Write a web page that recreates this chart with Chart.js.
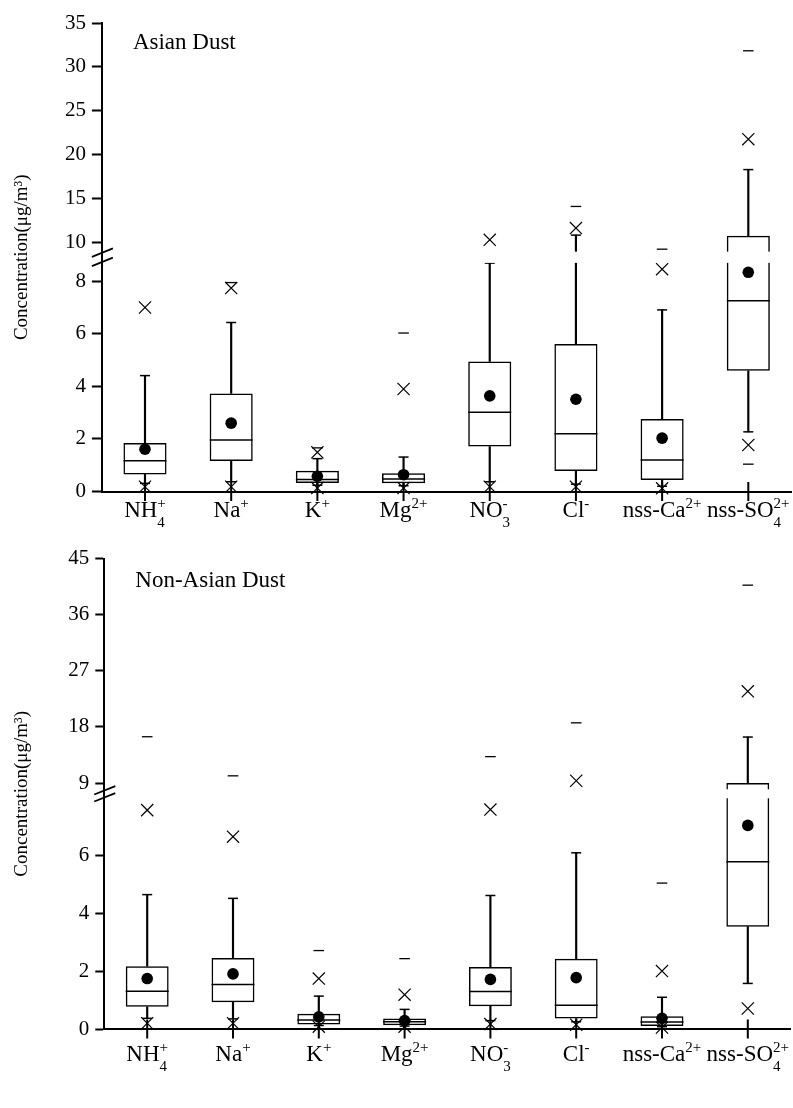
<!DOCTYPE html>
<html>
<head>
<meta charset="utf-8">
<title>Ion concentrations – Asian Dust / Non-Asian Dust</title>
<script src="https://cdn.jsdelivr.net/npm/chart.js@4/dist/chart.umd.min.js"></script>
<style>
  html, body { margin: 0; padding: 0; background: #fff; }
  #page { position: relative; width: 793px; height: 1108px; overflow: hidden; background: #fff; }
  .panel { position: absolute; left: 0; width: 793px; }
</style>
</head>
<body>
<div id="page">
  <div class="panel" style="top:0;height:540px"><canvas id="asianChart"></canvas></div>
  <div class="panel" style="top:540px;height:568px"><canvas id="nonAsianChart"></canvas></div>
</div>
<script>
// ---- categories (ions) ----
const categories = ['NH₄⁺', 'Na⁺', 'K⁺', 'Mg²⁺', 'NO₃⁻', 'Cl⁻', 'nss-Ca²⁺', 'nss-SO₄²⁺'];
const labelBase = ['NH', 'Na', 'K', 'Mg', 'NO', 'Cl', 'nss-Ca', 'nss-SO'];
const labelSub  = ['4', '', '', '', '3', '', '', '4'];
const labelSup  = ['+', '+', '+', '2+', '-', '-', '2+', '2+'];

// ---- Asian Dust (µg/m³) ----
const asianMin    = [null, null, null, null, null, null, null, 1.04];
const asianP1     = [0.18, 0.18, 0.13, 0.13, 0.18, 0.18, 0.12, 1.77];
const asianLow    = [0.31, 0.37, 0.24, 0.22, 0.37, 0.28, 0.20, 2.27];
const asianQ1     = [0.65, 1.16, 0.32, 0.31, 1.71, 0.78, 0.44, 4.59];
const asianMedian = [1.17, 1.96, 0.46, 0.48, 3.02, 2.20, 1.20, 7.26];
const asianMean   = [1.61, 2.60, 0.58, 0.64, 3.64, 3.51, 2.03, 8.34];
const asianQ3     = [1.85, 3.73, 0.79, 0.69, 4.95, 5.61, 2.76, 10.8];
const asianHigh   = [4.41, 6.43, 1.25, 1.31, 8.69, 10.88, 6.91, 18.33];
const asianP99    = [7.00, 7.74, 1.49, 3.90, 10.34, 11.68, 8.46, 21.79];
const asianMax    = [null, 7.95, 1.66, 6.03, null, 14.14, 9.28, 31.84];
const asianTicks  = [0, 2, 4, 6, 8, 10, 15, 20, 25, 30, 35];

// ---- Non-Asian Dust (µg/m³) ----
const nonAsianMin    = [null, null, null, null, null, null, null, null];
const nonAsianP1     = [0.20, 0.20, 0.08, 0.08, 0.17, 0.15, 0.05, 0.71];
const nonAsianLow    = [0.37, 0.35, 0.12, 0.10, 0.29, 0.25, 0.08, 1.58];
const nonAsianQ1     = [0.77, 0.93, 0.16, 0.13, 0.79, 0.36, 0.10, 3.55];
const nonAsianMedian = [1.31, 1.54, 0.31, 0.25, 1.30, 0.82, 0.24, 5.80];
const nonAsianMean   = [1.75, 1.91, 0.42, 0.29, 1.72, 1.78, 0.37, 7.06];
const nonAsianQ3     = [2.18, 2.46, 0.53, 0.36, 2.15, 2.44, 0.44, 9.00];
const nonAsianHigh   = [4.66, 4.53, 1.14, 0.68, 4.63, 6.11, 1.10, 16.38];
const nonAsianP99    = [7.59, 6.67, 1.75, 1.19, 7.61, 9.37, 2.01, 23.72];
const nonAsianMax    = [16.43, 10.16, 2.72, 2.44, 13.24, 18.66, 5.06, 40.74];
const nonAsianTicks  = [0, 2, 4, 6, 9, 18, 27, 36, 45];

const tickSets = { asian: asianTicks, nonAsian: nonAsianTicks };
const serif = '"Liberation Serif", "Times New Roman", serif';

// Linear value axis with a break: the lower segment [min, lowerMax] and the
// upper segment [upperMin, max] each take half of the height, separated by a gap.
class BrokenLinearScale extends Chart.LinearScale {
  static id = 'brokenLinear';
  static defaults = Chart.LinearScale.defaults;

  buildTicks() {
    return tickSets[this.options.tickSet].map(v => ({ value: v }));
  }
  breakGeometry() {
    const b = this.options.axisBreak;
    const half = (this.bottom - this.top - b.gap) / 2;
    return { b, half, lowTop: this.bottom - half, upBottom: this.top + half };
  }
  getPixelForValue(value) {
    if (value === null || value === undefined || isNaN(value)) return NaN;
    const { b, half, lowTop, upBottom } = this.breakGeometry();
    const min = this.options.min, max = this.options.max;
    if (value < b.upperMin || (value <= b.lowerMax && b.lowerMax < b.upperMin)) {
      if (value <= b.lowerMax) return this.bottom - (value - min) / (b.lowerMax - min) * half;
    }
    if (value >= b.upperMin) return upBottom - (value - b.upperMin) / (max - b.upperMin) * half;
    return lowTop - (value - b.lowerMax) / (b.upperMin - b.lowerMax) * (lowTop - upBottom);
  }
  getValueForPixel(pixel) {
    const { b, half, lowTop, upBottom } = this.breakGeometry();
    const min = this.options.min, max = this.options.max;
    if (pixel >= lowTop) return min + (this.bottom - pixel) / half * (b.lowerMax - min);
    if (pixel <= upBottom) return b.upperMin + (upBottom - pixel) / half * (max - b.upperMin);
    return b.lowerMax + (lowTop - pixel) / (lowTop - upBottom) * (b.upperMin - b.lowerMax);
  }
}
Chart.register(BrokenLinearScale);

// Panel title, axis break marks, crossing category ticks and ion labels
const panelDecor = {
  id: 'panelDecor',
  afterDatasetsDraw(chart, args, opts) {
    const ctx = chart.ctx, area = chart.chartArea;
    const xs = chart.scales.x, ys = chart.scales.y;
    const { lowTop, upBottom } = ys.breakGeometry();
    ctx.save();
    ctx.fillStyle = '#fff';
    ctx.fillRect(area.left + 1.5, upBottom, area.right - area.left, lowTop - upBottom);

    ctx.strokeStyle = '#000';
    ctx.lineWidth = 1.8;
    [upBottom + 1, lowTop - 1].forEach(cy => {
      ctx.beginPath();
      ctx.moveTo(area.left - 10, cy + 4.2);
      ctx.lineTo(area.left + 11, cy - 4.2);
      ctx.stroke();
    });

    ctx.lineWidth = 2;
    categories.forEach((c, i) => {
      const px = xs.getPixelForValue(i);
      ctx.beginPath();
      ctx.moveTo(px, area.bottom - 9.5);
      ctx.lineTo(px, area.bottom + 9.5);
      ctx.stroke();
    });

    ctx.fillStyle = '#000';
    ctx.textAlign = 'left';
    ctx.textBaseline = 'alphabetic';
    const baseY = area.bottom + opts.labelOffset;
    categories.forEach((c, i) => {
      ctx.font = '23px ' + serif;
      const wb = ctx.measureText(labelBase[i]).width;
      ctx.font = '15px ' + serif;
      const ws = ctx.measureText(labelSub[i]).width;
      const wp = ctx.measureText(labelSup[i]).width;
      const sx = xs.getPixelForValue(i) - (wb + Math.max(ws, wp)) / 2;
      ctx.font = '23px ' + serif;
      ctx.fillText(labelBase[i], sx, baseY);
      ctx.font = '15px ' + serif;
      if (labelSub[i]) ctx.fillText(labelSub[i], sx + wb, baseY + 10);
      if (labelSup[i]) ctx.fillText(labelSup[i], sx + wb, baseY - 9);
    });

    ctx.font = '23px ' + serif;
    ctx.fillText(opts.title, area.left + opts.titleDx, area.top + opts.titleDy);
    ctx.restore();
  }
};

function marker(data, style, radius, width, fill, order) {
  return {
    type: 'line', data, showLine: false, clip: false, order,
    pointStyle: style, pointRadius: radius, pointHoverRadius: radius,
    pointBorderWidth: width, pointBorderColor: '#000', pointBackgroundColor: fill
  };
}

function boxDatasets(s) {
  const span = (lo, hi) => lo.map((v, i) => (v === null || hi[i] === null) ? null : [v, hi[i]]);
  return [
    { type: 'bar', data: span(s.q3, s.high), backgroundColor: '#000', borderWidth: 0,
      barThickness: 1.5, grouped: false, order: 6 },
    { type: 'bar', data: span(s.low, s.q1), backgroundColor: '#000', borderWidth: 0,
      barThickness: 1.5, grouped: false, order: 6 },
    { type: 'bar', data: span(s.q1, s.q3), backgroundColor: 'rgba(255,255,255,0)',
      borderColor: '#000', borderWidth: 1.5, borderSkipped: false, grouped: false,
      categoryPercentage: 0.5, barPercentage: 1, order: 5 },
    marker(s.median, 'line', 21.5, 1.5, '#000', 4),
    marker(s.high, 'line', 5, 1.5, '#000', 3),
    marker(s.low, 'line', 5, 1.5, '#000', 3),
    marker(s.p99, 'crossRot', 8.6, 1.2, '#000', 2),
    marker(s.p1, 'crossRot', 8.6, 1.2, '#000', 2),
    marker(s.max, 'line', 5.3, 1.3, '#000', 2),
    marker(s.min, 'line', 5.3, 1.3, '#000', 2),
    marker(s.mean, 'circle', 5.8, 0, '#000', 1)
  ];
}

function makeChart(canvasId, s, cfg) {
  return new Chart(document.getElementById(canvasId), {
    type: 'bar',
    data: { labels: categories, datasets: boxDatasets(s) },
    options: {
      responsive: true,
      maintainAspectRatio: false,
      animation: false,
      events: [],
      layout: { autoPadding: false, padding: { left: 0, top: cfg.top, right: cfg.right, bottom: 0 } },
      plugins: {
        legend: { display: false },
        tooltip: { enabled: false },
        panelDecor: { title: cfg.title, titleDx: 31, titleDy: cfg.titleDy, labelOffset: cfg.labelOffset }
      },
      scales: {
        x: {
          type: 'category', offset: true,
          grid: { display: false },
          border: { display: true, color: '#000', width: 2 },
          ticks: { display: false },
          afterFit: sc => { sc.height = cfg.xHeight; }
        },
        y: {
          type: 'brokenLinear', min: 0, max: cfg.max,
          tickSet: cfg.tickSet,
          axisBreak: cfg.axisBreak,
          grid: { display: true, drawOnChartArea: false, drawTicks: true,
                  tickLength: cfg.tickLength, tickWidth: 2, tickColor: '#000' },
          border: { display: true, color: '#000', width: 2 },
          ticks: { autoSkip: false, padding: 6, color: '#000', font: { family: serif, size: 21 } },
          title: { display: true, text: 'Concentration(μg/m³)', color: '#000',
                   font: { family: serif, size: 19 }, padding: { top: 11, bottom: 0 } },
          afterFit: sc => { sc.width = cfg.yWidth; }
        }
      }
    },
    plugins: [panelDecor]
  });
}

Chart.defaults.font.family = serif;
Chart.defaults.color = '#000';

makeChart('asianChart', {
  min: asianMin, p1: asianP1, low: asianLow, q1: asianQ1, median: asianMedian,
  mean: asianMean, q3: asianQ3, high: asianHigh, p99: asianP99, max: asianMax
}, {
  title: 'Asian Dust', max: 35, tickSet: 'asian',
  axisBreak: { lowerMax: 8.7, upperMin: 9, gap: 11.2 },
  top: 23, right: 1.6, xHeight: 48.5, yWidth: 101.9, tickLength: 10,
  titleDy: 26, labelOffset: 25
});

makeChart('nonAsianChart', {
  min: nonAsianMin, p1: nonAsianP1, low: nonAsianLow, q1: nonAsianQ1, median: nonAsianMedian,
  mean: nonAsianMean, q3: nonAsianQ3, high: nonAsianHigh, p99: nonAsianP99, max: nonAsianMax
}, {
  title: 'Non-Asian Dust', max: 45, tickSet: 'nonAsian',
  axisBreak: { lowerMax: 8, upperMin: 8, gap: 9 },
  top: 16.7, right: 2.3, xHeight: 79, yWidth: 104.3, tickLength: 9,
  titleDy: 28, labelOffset: 32
});
</script>
</body>
</html>
